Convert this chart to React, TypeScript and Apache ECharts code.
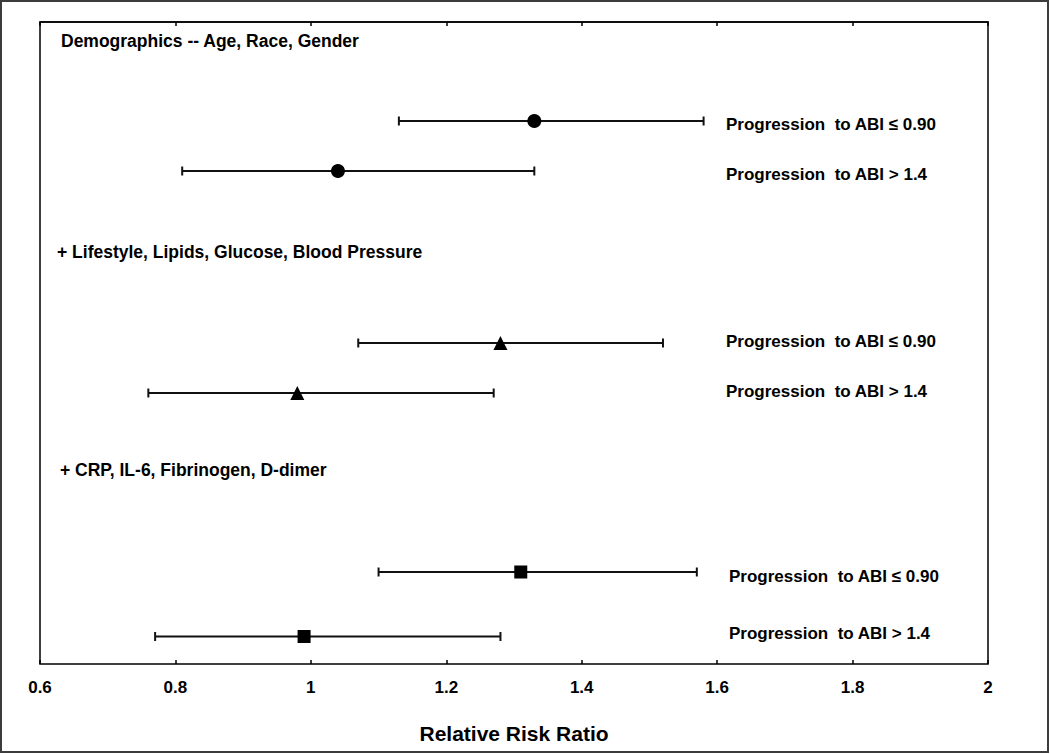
import React, { useEffect, useRef } from "react";
import * as echarts from "echarts";

// x-axis ticks
const xTicks = [0.6, 0.8, 1, 1.2, 1.4, 1.6, 1.8, 2];

// Model groups (headers)
const groupTitles = [
  "Demographics -- Age, Race, Gender",
  "+ Lifestyle, Lipids, Glucose, Blood Pressure",
  "+ CRP, IL-6, Fibrinogen, D-dimer",
];

// outcome labels per row
const outcomeLabels = [
  "Progression  to ABI \u2264 0.90",
  "Progression  to ABI > 1.4",
  "Progression  to ABI \u2264 0.90",
  "Progression  to ABI > 1.4",
  "Progression  to ABI \u2264 0.90",
  "Progression  to ABI > 1.4",
];

// row positions on the (hidden) vertical axis, from top
const rowPos = [1.98, 2.98, 6.42, 7.42, 11.0, 12.29];

// relative risk estimates and 95% CI
const estimates = [1.33, 1.04, 1.28, 0.98, 1.31, 0.99];
const lower = [1.13, 0.81, 1.07, 0.76, 1.1, 0.77];
const upper = [1.58, 1.33, 1.52, 1.27, 1.57, 1.28];
const symbols = ["circle", "circle", "triangle", "triangle", "rect", "rect"];

const FONT = "'Liberation Sans', Arial, Helvetica, sans-serif";

export default function App() {
  const ref = useRef<HTMLDivElement>(null);

  useEffect(() => {
    if (!ref.current) return;
    const chart = echarts.init(ref.current, null, { renderer: "svg" });

    const gridLeft = 40;
    const gridTop = 22;
    const gridRight = 988;
    const gridBottom = 664;

    const ciData = estimates.map((_, i) => [lower[i], upper[i], rowPos[i]]);
    const pointData = estimates.map((v, i) => ({
      value: [v, rowPos[i]],
      symbol: symbols[i],
      symbolSize: symbols[i] === "rect" ? 13 : 14,
    }));

    const headerY = [41, 252, 470];
    const headerX = [61, 57, 60];
    const labelX = [726, 726, 726, 726, 729, 729];
    const labelY = [124, 174, 341, 391, 576, 633];

    const graphics: any[] = [
      {
        type: "rect",
        shape: { x: 1, y: 1, width: 1047, height: 751 },
        style: { fill: "none", stroke: "#3c3c3c", lineWidth: 2 },
        silent: true,
      },
      ...groupTitles.map((t, i) => ({
        type: "text",
        x: headerX[i],
        y: headerY[i],
        style: {
          text: t,
          fill: "#000",
          font: `bold 17.5px ${FONT}`,
          textAlign: "left",
          textVerticalAlign: "middle",
        },
      })),
      ...outcomeLabels.map((t, i) => ({
        type: "text",
        x: labelX[i],
        y: labelY[i],
        style: {
          text: t,
          fill: "#000",
          font: `bold 17px ${FONT}`,
          textAlign: "left",
          textVerticalAlign: "middle",
        },
      })),
      {
        type: "text",
        x: (gridLeft + gridRight) / 2,
        y: 733,
        style: {
          text: "Relative Risk Ratio",
          fill: "#000",
          font: `bold 21px ${FONT}`,
          textAlign: "center",
          textVerticalAlign: "middle",
        },
      },
    ];

    const xAxisBase = {
      type: "value",
      min: xTicks[0],
      max: xTicks[xTicks.length - 1],
      interval: 0.2,
      splitLine: { show: false },
    };

    chart.setOption({
      animation: false,
      backgroundColor: "#fff",
      grid: {
        left: gridLeft,
        top: gridTop,
        width: gridRight - gridLeft,
        height: gridBottom - gridTop,
        show: true,
        borderColor: "#000",
        borderWidth: 1.5,
        backgroundColor: "transparent",
      },
      xAxis: [
        {
          ...xAxisBase,
          axisLine: { show: true, lineStyle: { color: "#000", width: 1.5 } },
          axisTick: { show: true, inside: false, length: 4, lineStyle: { color: "#000", width: 1.5 } },
          axisLabel: {
            show: true,
            margin: 15,
            color: "#000",
            fontFamily: FONT,
            fontWeight: "bold",
            fontSize: 17,
            formatter: (v: number) => String(Math.round(v * 10) / 10),
          },
        },
        {
          ...xAxisBase,
          position: "bottom",
          axisLine: { show: false },
          axisTick: { show: true, inside: true, length: 4, lineStyle: { color: "#000", width: 1.5 } },
          axisLabel: { show: false },
        },
      ],
      yAxis: {
        type: "value",
        min: 0,
        max: (gridBottom - gridTop) / 50,
        inverse: true,
        show: false,
        splitLine: { show: false },
      },
      graphic: graphics,
      series: [
        {
          type: "custom",
          xAxisIndex: 0,
          data: ciData,
          renderItem: (params: any, api: any) => {
            const lo = api.coord([api.value(0), api.value(2)]);
            const hi = api.coord([api.value(1), api.value(2)]);
            const cap = 4.5;
            const style = { stroke: "#111", lineWidth: 2 };
            return {
              type: "group",
              children: [
                { type: "line", shape: { x1: lo[0], y1: lo[1], x2: hi[0], y2: hi[1] }, style },
                { type: "line", shape: { x1: lo[0], y1: lo[1] - cap, x2: lo[0], y2: lo[1] + cap }, style },
                { type: "line", shape: { x1: hi[0], y1: hi[1] - cap, x2: hi[0], y2: hi[1] + cap }, style },
              ],
            };
          },
          z: 2,
        },
        {
          type: "scatter",
          xAxisIndex: 0,
          data: pointData,
          itemStyle: { color: "#000", opacity: 1 },
          z: 3,
        },
      ],
    });

    return () => chart.dispose();
  }, []);

  return (
    <div
      ref={ref}
      style={{ position: "fixed", left: 0, top: 0, width: 1050, height: 754, background: "#fff" }}
    />
  );
}
